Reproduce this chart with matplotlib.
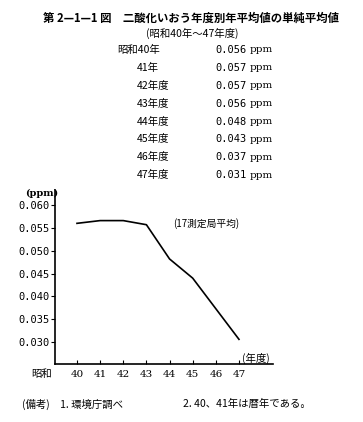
import matplotlib
matplotlib.use("Agg")
import matplotlib.pyplot as plt

plt.rcParams['font.family'] = ['Noto Sans CJK JP', 'DejaVu Sans']

# Table / series data
years = [40, 41, 42, 43, 44, 45, 46, 47]
year_labels = ["昭和40年", "41年", "42年度", "43年度", "44年度", "45年度", "46年度", "47年度"]
table_values = [0.056, 0.057, 0.057, 0.056, 0.048, 0.043, 0.037, 0.031]
plot_values = [0.0560, 0.0566, 0.0566, 0.0557, 0.0482, 0.0440, 0.0373, 0.0306]
y_ticks = [0.030, 0.035, 0.040, 0.045, 0.050, 0.055, 0.060]

fig = plt.figure(figsize=(3.63, 4.22), dpi=100)

# Title and table of values
fig.text(0.527, 0.957, "第 2—1—1 図　二酸化いおう年度別年平均値の単純平均値",
         ha="center", va="center", fontsize=8.2, fontweight="bold")
fig.text(0.53, 0.922, "(昭和40年～47年度)", ha="center", va="center", fontsize=7.5)

row_y = [50, 68, 86, 104, 122, 139, 157, 175]
for i, (lab, val) in enumerate(zip(year_labels, table_values)):
    y = 1 - row_y[i] / 422
    if i == 0:
        fig.text(160 / 363, y, lab, ha="right", va="center", fontsize=7.5)
    else:
        fig.text(137 / 363, y, lab, ha="left", va="center", fontsize=7.5)
    fig.text(215 / 363, y, f"{val:.3f}", ha="left", va="center", fontsize=7.5,
             family="DejaVu Sans Mono")
    fig.text(250 / 363, y, "ppm", ha="left", va="center", fontsize=7.5,
             family="DejaVu Serif")

# Chart
ax = fig.add_axes([55 / 363, 1 - 364 / 422, 218 / 363, 174 / 422])
ax.plot(years, plot_values, color="black", linewidth=1.2)
ax.set_xlim(39.05, 48.47)
ax.set_ylim(0.0252, 0.0633)
ax.set_yticks(y_ticks)
ax.set_yticklabels([f"{v:.3f}" for v in y_ticks], family="DejaVu Sans Mono", fontsize=7.5)
ax.set_xticks(years)
ax.set_xticklabels([str(y) for y in years], family="DejaVu Serif", fontsize=7.5)
ax.tick_params(axis="y", direction="out", length=3, pad=1)
ax.tick_params(axis="x", direction="in", length=3, pad=4)
for s in ["top", "right"]:
    ax.spines[s].set_visible(False)
for s in ["left", "bottom"]:
    ax.spines[s].set_linewidth(1.2)

fig.text(42 / 363, 1 - 193 / 422, "(ppm)", ha="center", va="center", fontsize=7,
         family="DejaVu Serif", fontweight="bold")
fig.text(206 / 363, 1 - 224 / 422, "(17測定局平均)", ha="center", va="center", fontsize=7)
fig.text(256 / 363, 1 - 358 / 422, "(年度)", ha="center", va="center", fontsize=7.5)
fig.text(42 / 363, 1 - 374 / 422, "昭和", ha="center", va="center", fontsize=7.5)

# Notes
fig.text(22 / 363, 1 - 404 / 422, "(備考)　1. 環境庁調べ", ha="left", va="center", fontsize=7.5)
fig.text(183 / 363, 1 - 404 / 422, "2. 40、41年は暦年である。", ha="left", va="center", fontsize=7.5)

fig.savefig("out.png", dpi=100)
